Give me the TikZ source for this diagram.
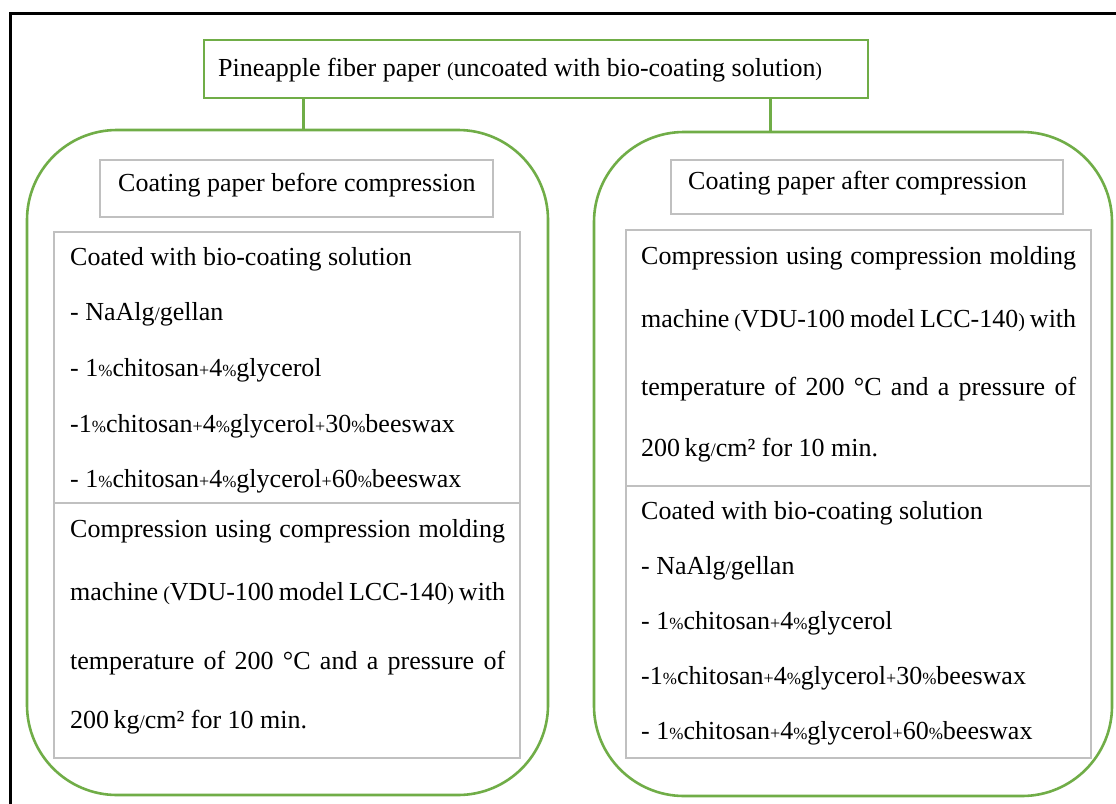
\documentclass[tikz,border=0pt]{standalone}
\usepackage{fontspec}
\setmainfont{Liberation Serif}
\definecolor{grn}{RGB}{112,173,71}
\definecolor{gry}{RGB}{192,192,192}
\newcommand{\pct}{{\fontsize{17}{17}\selectfont\%}}
\newcommand{\pls}{{\fontsize{18}{18}\selectfont+}}
\newcommand{\slh}{{\fontsize{19}{19}\selectfont/}}
\newcommand{\lpar}{{\fontsize{20}{20}\selectfont(}}
\newcommand{\rpar}{{\fontsize{20}{20}\selectfont)}}
\tikzset{
  txt/.style={anchor=base west, inner sep=0pt, font=\fontsize{26}{30}\selectfont},
  greenbox/.style={draw=grn, line width=1.5pt, inner sep=0pt},
  group/.style={draw=grn, line width=2.6pt, rounded corners=90pt, inner sep=0pt},
  graybox/.style={draw=gry, line width=1.5pt, inner sep=0pt},
  link/.style={draw=grn, line width=3pt}
}
\newcommand{\just}[1]{\makebox[435pt][s]{#1}}
\begin{document}
\begin{tikzpicture}[x=1pt,y=-1pt]
\useasboundingbox (0,0) rectangle (1116,803);
\fill[white] (0,0) rectangle (1116,803);
% outer frame
\draw[line width=3pt] (1120,13) -- (10,13) -- (10,810);

% top box
\node[greenbox, minimum width=664pt, minimum height=58pt] (top) at (536,69) {};
\node[txt] (toptxt) at (218,76) {Pineapple fiber paper \lpar uncoated with bio-coating solution\rpar};

% group boxes
\node[group, minimum width=521pt, minimum height=665pt] (L) at (287.5,462.5) {};
\node[group, minimum width=518pt, minimum height=664pt] (R) at (853,464) {};

% connectors
\coordinate (cl) at (303,98);
\coordinate (cr) at (770,98);
\draw[link] (cl) -- (cl |- L.north);
\draw[link] (cr) -- (cr |- R.north);

% left side
\node[graybox, minimum width=393pt, minimum height=57pt] (Lh) at (296.5,188.5) {};
\node[txt] (Lht) at (118,191) {Coating paper before compression};
\node[graybox, minimum width=466pt, minimum height=271pt] (La) at (287,367.5) {};
\node[graybox, minimum width=466pt, minimum height=255pt] (Lb) at (287,630.5) {};

\node[txt] at (70,265) {Coated with bio-coating solution};
\node[txt] at (70,320) {- NaAlg\slh gellan};
\node[txt] at (70,376) {- 1\pct chitosan\pls 4\pct glycerol};
\node[txt] at (70,432) {-1\pct chitosan\pls 4\pct glycerol\pls 30\pct beeswax};
\node[txt] at (70,487) {- 1\pct chitosan\pls 4\pct glycerol\pls 60\pct beeswax};

\node[txt] at (70,537) {\just{Compression using compression molding}};
\node[txt] at (70,600) {\just{machine \lpar VDU-100 model LCC-140\rpar\ with}};
\node[txt] at (70,669) {\just{temperature of 200 °C and a pressure of}};
\node[txt] at (70,728) {200\,kg\slh cm² for 10 min.};

% right side
\node[graybox, minimum width=392pt, minimum height=54pt] (Rh) at (867,187) {};
\node[txt] (Rht) at (688,189) {Coating paper after compression};
\node[graybox, minimum width=465pt, minimum height=256pt] (Ra) at (858.5,358) {};
\node[graybox, minimum width=465pt, minimum height=272pt] (Rb) at (858.5,622) {};

\node[txt] at (641,264) {\just{Compression using compression molding}};
\node[txt] at (641,327) {\just{machine \lpar VDU-100 model LCC-140\rpar\ with}};
\node[txt] at (641,395) {\just{temperature of 200 °C and a pressure of}};
\node[txt] at (641,456) {200\,kg\slh cm² for 10 min.};

\node[txt] at (641,519) {Coated with bio-coating solution};
\node[txt] at (641,574) {- NaAlg\slh gellan};
\node[txt] at (641,629) {- 1\pct chitosan\pls 4\pct glycerol};
\node[txt] at (641,684) {-1\pct chitosan\pls 4\pct glycerol\pls 30\pct beeswax};
\node[txt] at (641,739) {- 1\pct chitosan\pls 4\pct glycerol\pls 60\pct beeswax};
\end{tikzpicture}
\end{document}
